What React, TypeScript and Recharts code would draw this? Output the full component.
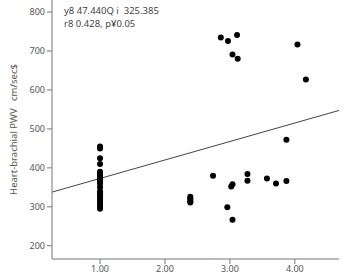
import { ScatterChart, Scatter, XAxis, YAxis, ReferenceLine } from 'recharts';

// x = score, y = heart-brachial PWV
const groupA = [455, 450, 425, 410, 390, 385, 380, 375, 370, 365, 360, 350, 340, 335, 330, 325, 320, 315, 310, 305, 300, 295];
const groupB = [326, 322, 318, 314, 311];
const scatterX = [2.86, 2.97, 3.11, 3.04, 3.12, 4.04, 4.17, 3.87, 2.74, 3.27, 3.27, 3.57, 3.71, 3.87, 3.04, 3.02, 2.96, 3.04];
const scatterY = [735, 726, 741, 691, 680, 717, 627, 472, 380, 384, 367, 373, 360, 366, 358, 352, 299, 267];

const xTicks = [1, 2, 3, 4];
const yTicks = [200, 300, 400, 500, 600, 700, 800];
const slope = 47.44;
const intercept = 325.385;
const xDomain = [0.26, 4.68];
const yDomain = [166, 831];

const points = [
    ...groupA.map((y) => ({ x: 1, y })),
    ...groupB.map((y) => ({ x: 2.39, y })),
    ...scatterX.map((x, i) => ({ x, y: scatterY[i] })),
];

const font = '"Noto Sans", sans-serif';
const tickStyle = { fontSize: 9, fill: '#555', fontFamily: font };

export default function App() {
    return (
        <div style={{ position: 'absolute', left: 0, top: 0, width: 345, height: 280, background: '#fff' }}>
            <ScatterChart width={345} height={280} margin={{ top: 0, right: 6, left: 0, bottom: 0 }}>
                <XAxis
                    type="number"
                    dataKey="x"
                    domain={xDomain}
                    ticks={xTicks}
                    tickFormatter={(v: number) => v.toFixed(2)}
                    height={21}
                    stroke="#777"
                    tick={tickStyle}
                    tickSize={5}
                    allowDataOverflow
                />
                <YAxis
                    type="number"
                    dataKey="y"
                    domain={yDomain}
                    ticks={yTicks}
                    width={52}
                    stroke="#777"
                    tick={tickStyle}
                    tickSize={5}
                    allowDataOverflow
                    label={{
                        value: 'Heart-brachial PWV\u00a0\u00a0\u00a0cm/sec$',
                        angle: -90,
                        position: 'insideLeft',
                        offset: 14,
                        style: { fontSize: 9.5, fill: '#555', fontFamily: font, textAnchor: 'middle' },
                    }}
                />
                <ReferenceLine
                    segment={[
                        { x: xDomain[0], y: slope * xDomain[0] + intercept },
                        { x: xDomain[1], y: slope * xDomain[1] + intercept },
                    ]}
                    stroke="#444"
                    strokeWidth={1}
                />
                <Scatter data={points} fill="#000" isAnimationActive={false} shape={(p: any) => <circle cx={p.cx} cy={p.cy} r={3} fill="#000" />} />
                <text x={64} y={14} fontSize={9.5} fill="#444" fontFamily={font} style={{ whiteSpace: 'pre' }}>y8 47.440Q i  325.385</text>
                <text x={64} y={27} fontSize={9.5} fill="#444" fontFamily={font}>r8 0.428, p¥0.05</text>
            </ScatterChart>
        </div>
    );
}
